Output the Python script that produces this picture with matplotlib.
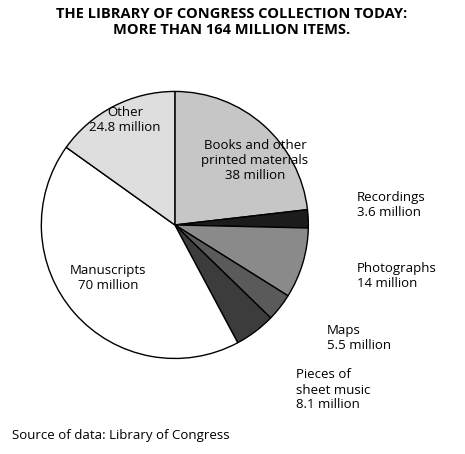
import matplotlib.pyplot as plt

# dados da coleção (milhões de itens)
categorias = ['Books and other\nprinted materials\n38 million', 'Recordings\n3.6 million',
              'Photographs\n14 million', 'Maps\n5.5 million',
              'Pieces of\nsheet music\n8.1 million', 'Manuscripts\n70 million',
              'Other\n24.8 million']
valores = [38, 3.6, 14, 5.5, 8.1, 70, 24.8]
cores = ['#c6c6c6', '#1c1c1c', '#8a8a8a', '#5a5a5a', '#3c3c3c', '#ffffff', '#dedede']

plt.rcParams['font.family'] = ['Open Sans', 'DejaVu Sans']

fig = plt.figure(figsize=(4.65, 4.54), dpi=100)
ax = fig.add_axes([0.086, 0.207, 0.58, 0.595])
ax.pie(valores, colors=cores, startangle=90, counterclock=False,
       wedgeprops=dict(edgecolor='black', linewidth=1))
ax.set_xlim(-1.01, 1.01)
ax.set_ylim(-1.01, 1.01)
ax.set_aspect('equal')

def px(x, y):
    return x / 465, 1 - y / 454

fig.text(*px(232, 22), 'THE LIBRARY OF CONGRESS COLLECTION TODAY:\nMORE THAN 164 MILLION ITEMS.',
         ha='center', va='center', fontsize=10.5, fontweight='bold', linespacing=1.2)

# posições dos rótulos
pos = [(255, 160, 'center'), (357, 205, 'left'), (357, 276, 'left'), (327, 338, 'left'),
       (296, 390, 'left'), (108, 278, 'center'), (125, 120, 'center')]
for lab, (x, y, ha) in zip(categorias, pos):
    fig.text(*px(x, y), lab, ha=ha, va='center', fontsize=9.5, linespacing=1.2)

fig.text(*px(12, 435), 'Source of data: Library of Congress', ha='left', va='center', fontsize=9.5)

fig.savefig('out.png', dpi=100)
